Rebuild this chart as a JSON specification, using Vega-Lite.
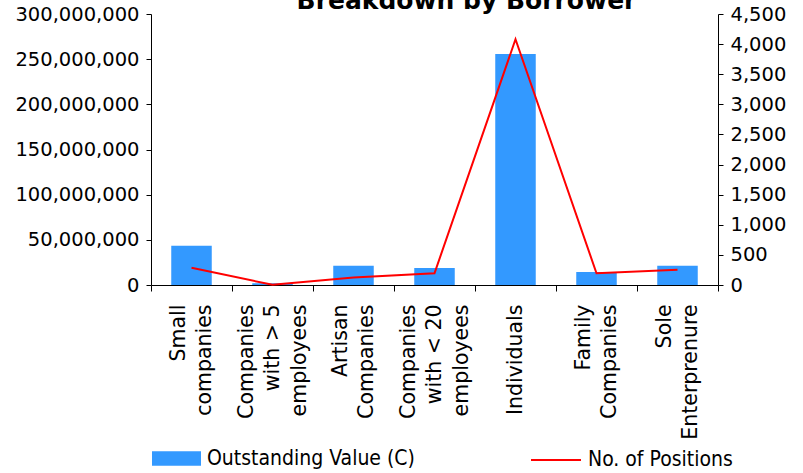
{
  "$schema": "https://vega.github.io/schema/vega-lite/v6.json",
  "width": 567,
  "height": 271,
  "autosize": {"type": "none"},
  "padding": {"left": 151, "top": 14, "right": 85, "bottom": 188},
  "background": "white",
  "title": {
    "text": "Breakdown by Borrower",
    "font": "DejaVu Sans",
    "fontSize": 25,
    "fontWeight": "bold",
    "color": "black",
    "anchor": "middle",
    "baseline": "alphabetic",
    "offset": -30,
    "dx": 32
  },
  "config": {
    "view": {"stroke": null},
    "axis": {
      "grid": false,
      "domainColor": "black",
      "tickColor": "black",
      "labelColor": "black",
      "labelFont": "DejaVu Sans",
      "title": null
    }
  },
  "data": {
    "values": [
      {"borrower": "Small\ncompanies", "outstanding": 43500000, "positions": 287},
      {"borrower": "Companies\nwith > 5\nemployees", "outstanding": 1900000, "positions": 3},
      {"borrower": "Artisan\nCompanies", "outstanding": 21400000, "positions": 125},
      {"borrower": "Companies\nwith < 20\nemployees", "outstanding": 18800000, "positions": 195},
      {"borrower": "Individuals", "outstanding": 255700000, "positions": 4080},
      {"borrower": "Family\nCompanies", "outstanding": 14400000, "positions": 195},
      {"borrower": "Sole\nEnterprenure", "outstanding": 21400000, "positions": 254}
    ]
  },
  "encoding": {
    "x": {
      "field": "borrower",
      "type": "nominal",
      "sort": null,
      "scale": {"paddingInner": 0, "paddingOuter": 0},
      "axis": {
        "tickBand": "extent",
        "tickSize": 6,
        "labelAngle": -90,
        "labelFontSize": 20.5,
        "labelLineHeight": 26.5,
        "labelPadding": 13,
        "labelLimit": 0,
        "labelExpr": "split(datum.label, '\\n')",
        "labelOffset": {"expr": "-(length(split(datum.value, '\\n')) - 1) * 13.25"}
      }
    }
  },
  "layer": [
    {
      "mark": {"type": "bar", "width": {"band": 0.5}},
      "encoding": {
        "y": {
          "field": "outstanding",
          "type": "quantitative",
          "scale": {"domain": [0, 300000000], "nice": false},
          "axis": {
            "orient": "left",
            "values": [0, 50000000, 100000000, 150000000, 200000000, 250000000, 300000000],
            "format": ",d",
            "labelFontSize": 19.5,
            "tickSize": 5,
            "labelPadding": 7
          }
        },
        "fill": {
          "datum": "Outstanding Value (C)",
          "type": "nominal",
          "scale": {"range": ["#3399ff"]},
          "legend": {
            "orient": "none",
            "legendX": 1,
            "legendY": 420,
            "title": null,
            "padding": 0,
            "symbolType": "M-1,-0.3H1V0.3H-1Z",
            "symbolSize": 2401,
            "symbolStrokeWidth": 0,
            "symbolOpacity": 1,
            "labelFont": "DejaVu Sans Condensed, Liberation Sans Narrow, sans-serif",
            "labelFontSize": 21,
            "labelColor": "black",
            "labelOffset": 6,
            "labelLimit": 0
          }
        }
      }
    },
    {
      "mark": {"type": "line", "strokeWidth": 2},
      "encoding": {
        "y": {
          "field": "positions",
          "type": "quantitative",
          "scale": {"domain": [0, 4500], "nice": false},
          "axis": {
            "orient": "right",
            "values": [0, 500, 1000, 1500, 2000, 2500, 3000, 3500, 4000, 4500],
            "format": ",d",
            "labelFontSize": 19.5,
            "tickSize": 5,
            "labelPadding": 7
          }
        },
        "stroke": {
          "datum": "No. of Positions",
          "type": "nominal",
          "scale": {"range": ["#ff0000"]},
          "legend": {
            "orient": "none",
            "legendX": 379,
            "legendY": 420,
            "title": null,
            "padding": 0,
            "symbolType": "stroke",
            "symbolSize": 2500,
            "symbolStrokeWidth": 2,
            "labelFont": "DejaVu Sans Condensed, Liberation Sans Narrow, sans-serif",
            "labelFontSize": 21,
            "labelColor": "black",
            "labelOffset": 6,
            "labelLimit": 0
          }
        }
      }
    }
  ],
  "resolve": {"scale": {"y": "independent"}}
}
